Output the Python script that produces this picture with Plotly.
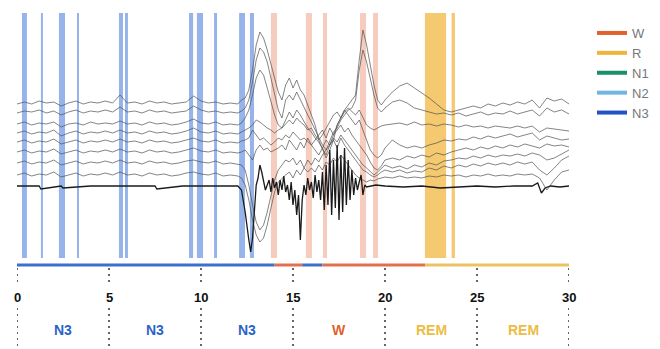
import plotly.graph_objects as go

# ---------------- data ----------------
x_grid = [0, 0.4, 0.8, 1.2, 1.6, 2.0, 2.4, 2.8, 3.2, 3.6, 4.0, 4.4, 4.8, 5.2, 5.6, 6.0,
          6.4, 6.8, 7.2, 7.6, 8.0, 8.4, 8.8, 9.2, 9.6, 10.0, 10.4, 10.8, 11.2, 11.6, 12.0,
          12.2, 12.4, 12.6, 12.8, 13.0, 13.2, 13.4, 13.6, 13.8, 14.0, 14.2, 14.4, 14.6, 14.8,
          15.0, 15.2, 15.4, 15.6, 15.8, 16.0, 16.2, 16.4, 16.6, 16.8, 17.0, 17.2, 17.4, 17.6,
          17.8, 18.0, 18.2, 18.4, 18.6, 18.8, 19.0, 19.2, 19.4, 19.6, 19.8, 20.0,
          20.4, 20.8, 21.2, 21.6, 22.0, 22.4, 22.8, 23.2, 23.6, 24.0, 24.4, 24.8, 25.2, 25.6,
          26.0, 26.4, 26.8, 27.2, 27.6, 28.0, 28.4, 28.8, 29.2, 29.6, 30.0]

# channel traces (vertical position, top = smaller value)
ch1 = [104, 102, 104, 101, 103, 102, 106, 103, 101, 104, 102, 103, 101, 103, 95, 103, 102, 104, 101, 103, 102, 104, 103, 102, 96, 101, 103, 102, 104, 103, 104,
       100, 98, 90, 70, 45, 32, 38, 50, 65, 80, 92, 100, 85, 78, 88, 80, 90, 95, 105, 115, 125, 140, 150, 158, 150, 140, 125, 118, 110, 105, 100, 95, 60, 30, 45, 65, 85, 100, 105, 100,
       92, 86, 83, 88, 93, 98, 104, 110, 112, 110, 108, 106, 108, 104, 106, 103, 105, 102, 104, 100, 108, 98, 101, 99, 104]
ch2 = [113, 111, 112, 110, 113, 111, 115, 112, 110, 113, 111, 112, 110, 112, 107, 112, 111, 113, 110, 112, 111, 113, 112, 111, 106, 110, 112, 111, 113, 112, 113,
       111, 108, 100, 82, 60, 48, 52, 62, 78, 95, 110, 118, 100, 95, 100, 92, 100, 108, 115, 122, 130, 138, 145, 150, 140, 132, 128, 120, 115, 110, 108, 100, 70, 50, 62, 80, 95, 108, 112, 108,
       102, 100, 103, 108, 110, 112, 114, 113, 115, 113, 116, 114, 112, 115, 113, 114, 111, 114, 112, 110, 116, 108, 112, 110, 114]
ch3 = [124, 122, 125, 123, 124, 122, 127, 124, 123, 125, 122, 124, 123, 124, 121, 124, 123, 125, 122, 124, 123, 125, 124, 122, 119, 123, 124, 122, 125, 124, 125,
       123, 118, 110, 95, 78, 70, 75, 88, 102, 115, 125, 128, 120, 112, 118, 110, 115, 122, 128, 132, 138, 142, 148, 155, 145, 135, 125, 118, 112, 108, 112, 115, 110, 118, 125, 128, 130, 128, 126, 125,
       124, 123, 125, 122, 125, 124, 126, 124, 125, 127, 125, 127, 126, 128, 126, 127, 128, 126, 128, 126, 132, 128, 129, 130, 131]
ch4 = [133, 131, 134, 132, 133, 130, 136, 133, 131, 134, 132, 133, 131, 133, 130, 133, 132, 134, 131, 133, 132, 134, 133, 131, 128, 132, 133, 131, 134, 133, 134,
       132, 130, 128, 125, 120, 122, 125, 128, 130, 133, 130, 128, 124, 120, 124, 118, 122, 125, 130, 128, 135, 140, 135, 128, 122, 115, 112, 118, 110, 115, 120, 125, 120, 130, 140, 150, 155, 158, 155, 148,
       140, 145, 148, 146, 148, 145, 143, 140, 141, 139, 140, 137, 139, 136, 138, 136, 134, 137, 135, 133, 140, 136, 138, 140, 139]
ch5 = [142, 140, 143, 141, 142, 139, 144, 142, 140, 143, 141, 142, 140, 142, 139, 142, 141, 143, 140, 142, 141, 143, 142, 140, 138, 141, 142, 140, 143, 142, 143,
       141, 140, 138, 130, 135, 140, 138, 142, 145, 142, 138, 140, 135, 138, 132, 136, 140, 138, 142, 145, 140, 135, 130, 138, 128, 135, 130, 125, 132, 128, 135, 140, 145, 150, 155, 162, 168, 170, 166, 160,
       158, 160, 156, 158, 155, 157, 153, 155, 152, 150, 148, 150, 147, 149, 146, 148, 145, 147, 144, 146, 148, 144, 146, 145, 147]
ch6 = [152, 150, 153, 151, 152, 149, 154, 152, 150, 153, 151, 152, 150, 152, 149, 152, 151, 153, 150, 152, 151, 153, 152, 150, 148, 151, 152, 150, 153, 152, 153,
       152, 150, 155, 160, 150, 145, 150, 148, 152, 150, 148, 145, 150, 140, 145, 150, 142, 148, 138, 145, 150, 155, 148, 140, 145, 138, 142, 135, 140, 145, 150, 155, 160, 165, 168, 172, 175, 172, 168, 165,
       168, 166, 169, 165, 167, 163, 165, 161, 160, 158, 159, 156, 158, 155, 157, 155, 156, 154, 156, 153, 155, 160, 158, 154, 150]
ch7 = [163, 161, 164, 162, 163, 160, 165, 163, 161, 164, 162, 163, 161, 163, 160, 163, 162, 164, 161, 163, 162, 164, 163, 161, 160, 162, 163, 161, 164, 163, 164,
       165, 170, 185, 205, 222, 230, 225, 212, 195, 180, 170, 165, 160, 162, 158, 165, 160, 168, 160, 165, 158, 162, 155, 150, 145, 140, 148, 138, 145, 150, 155, 160, 165, 170, 172, 175, 177, 175, 172, 170,
       172, 170, 173, 171, 172, 168, 170, 166, 168, 165, 167, 164, 166, 163, 165, 163, 165, 162, 164, 162, 170, 175, 168, 160, 156]
ch8 = [175, 173, 176, 174, 175, 172, 177, 175, 173, 176, 174, 175, 173, 175, 172, 175, 174, 176, 173, 175, 174, 176, 175, 173, 172, 174, 175, 173, 176, 175, 176,
       178, 185, 200, 220, 235, 242, 238, 225, 208, 192, 182, 178, 175, 172, 178, 170, 175, 168, 172, 168, 172, 165, 170, 162, 165, 158, 162, 155, 160, 165, 170, 175, 178, 180, 182, 180, 181, 179, 178, 177,
       178, 176, 178, 177, 178, 176, 177, 175, 176, 175, 177, 175, 176, 174, 176, 175, 176, 174, 175, 174, 178, 190, 180, 172, 170]

# reference (black) channel
black_x = [0, 1.2, 1.3, 2.4, 2.5, 4.0, 6.0, 7.5, 7.6, 9.0, 10.0, 11.5,
           12.0, 12.2, 12.4, 12.6, 12.7, 12.8, 12.9, 13.0, 13.1, 13.2, 13.3, 13.4, 13.5,
           13.6, 13.7, 13.8, 13.9, 14.0, 14.1, 14.2, 14.3, 14.4, 14.5, 14.6, 14.7, 14.8, 14.9,
           15.0, 15.1, 15.2, 15.3, 15.4, 15.5, 15.6, 15.7, 15.8, 15.9, 16.0, 16.1, 16.2, 16.3,
           16.4, 16.5, 16.6, 16.7, 16.8, 16.9, 17.0, 17.1, 17.2, 17.3, 17.4, 17.5, 17.6, 17.7,
           17.8, 17.9, 18.0, 18.1, 18.2, 18.3, 18.4, 18.5, 18.6, 18.7, 18.8, 18.9, 19.0,
           19.5, 20, 21, 22, 23, 24, 25, 26, 27, 28, 28.3, 28.5, 28.7, 29, 29.5, 30]
black_y = [186, 186, 189, 186, 188, 186, 186, 186, 189, 186, 186, 186,
           186, 190, 212, 240, 252, 238, 205, 185, 178, 165, 172, 182, 190,
           185, 180, 192, 178, 188, 182, 195, 180, 190, 176, 192, 185, 200, 182,
           205, 190, 215, 195, 240, 200, 185, 195, 178, 190, 182, 198, 175, 192,
           180, 200, 172, 210, 165, 205, 150, 215, 160, 208, 145, 220, 155, 212,
           148, 205, 160, 200, 170, 195, 178, 190, 182, 175, 195, 185, 187,
           185, 186, 187, 186, 188, 187, 186, 187, 186, 186, 183, 193, 188, 186, 187, 186]

# scored epochs (bands)
n3_start = [0.27, 1.30, 2.28, 3.26, 5.54, 5.87, 9.35, 9.78, 10.71, 12.07, 12.66]
n3_end = [0.54, 1.41, 2.61, 3.37, 5.76, 6.03, 9.57, 10.11, 10.87, 12.39, 12.88]
w_start = [13.80, 15.70, 16.63, 18.64, 19.35]
w_end = [14.13, 16.03, 16.85, 18.97, 19.62]
r_start = [22.17, 23.62]
r_end = [23.32, 23.80]

# hypnogram
hyp_start = [0, 14.0, 15.5, 16.6, 22.2]
hyp_end = [14.0, 15.5, 16.6, 22.2, 30]
hyp_stage = ["N3", "W", "N3", "W", "R"]

tick_vals = [0, 5, 10, 15, 20, 25, 30]
tick_text = ["0", "5", "10", "15", "20", "25", "30"]
seg_centers = [2.5, 7.5, 12.5, 17.5, 22.5, 27.5]
seg_labels = ["N3", "N3", "N3", "W", "REM", "REM"]
seg_stage = ["N3", "N3", "N3", "W", "R", "R"]

legend_names = ["W", "R", "N1", "N2", "N3"]
stage_color = {"W": "#e0622d", "R": "#f0b43c", "N1": "#1a8f68", "N2": "#72b4e2", "N3": "#2352c4"}
band_fill = {"W": "rgba(226,110,70,0.35)", "R": "rgba(240,178,50,0.70)", "N3": "rgba(45,105,215,0.50)"}
hyp_color = {"W": "#e2704e", "R": "#ebc263", "N3": "#3d6fcf"}
label_color = {"N3": "#2a63c8", "W": "#e0612f", "R": "#ecbd45"}

# ---------------- figure ----------------
W, H = 660, 349
OFF = 8  # page body margin offset
fig = go.Figure()

channels = [ch1, ch2, ch3, ch4, ch5, ch6, ch7, ch8]
for ch in channels:
    assert len(ch) == len(x_grid)
    fig.add_trace(go.Scatter(x=x_grid, y=ch, mode="lines", showlegend=False, hoverinfo="skip",
                             line=dict(color="rgba(80,80,80,0.7)", width=1)))
fig.add_trace(go.Scatter(x=black_x, y=black_y, mode="lines", showlegend=False, hoverinfo="skip",
                         line=dict(color="#1a1a1a", width=1.3)))

# bands
for starts, ends, st in [(n3_start, n3_end, "N3"), (w_start, w_end, "W"), (r_start, r_end, "R")]:
    for a, b in zip(starts, ends):
        fig.add_shape(type="rect", xref="x", yref="y domain", x0=a, x1=b, y0=0, y1=1,
                      fillcolor=band_fill[st], line_width=0, layer="below")

# hypnogram bar (on lower axis y2)
for a, b, st in zip(hyp_start, hyp_end, hyp_stage):
    fig.add_trace(go.Scatter(x=[a, b], y=[265, 265], xaxis="x", yaxis="y2", mode="lines",
                             showlegend=False, hoverinfo="skip",
                             line=dict(color=hyp_color[st], width=3)))

# dotted tick lines
for tv in tick_vals:
    for y0, y1 in [(268, 286), (308, 352)]:
        fig.add_trace(go.Scatter(x=[tv, tv], y=[y0, y1], xaxis="x", yaxis="y2", mode="lines",
                                 showlegend=False, hoverinfo="skip",
                                 line=dict(color="#666666", width=2, dash="2px,4px")))

# tick labels
for tv, tt in zip(tick_vals, tick_text):
    fig.add_annotation(x=tv, y=297, xref="x", yref="y2", text=f"<b>{tt}</b>", showarrow=False,
                       font=dict(family="Liberation Sans, Arial", size=13, color="#111111"))
# stage labels
for c, lab, st in zip(seg_centers, seg_labels, seg_stage):
    fig.add_annotation(x=c, y=330, xref="x", yref="y2", text=f"<b>{lab}</b>", showarrow=False,
                       font=dict(family="Liberation Sans, Arial", size=14, color=label_color[st]))

# legend entries
for nm in legend_names:
    fig.add_trace(go.Scatter(x=[None], y=[None], mode="lines", name=nm,
                             line=dict(color=stage_color[nm], width=4)))

# layout in reference-pixel terms, shifted by the page margin
top_px = 13 - OFF
mid_px = 258 - OFF
y_dom_bottom = (H - mid_px) / H
y_dom_top = (H - top_px) / H
fig.update_layout(
    width=W, height=H,
    margin=dict(l=17 - OFF, r=W - (569 - OFF), t=0, b=0),
    paper_bgcolor="white", plot_bgcolor="white",
    xaxis=dict(range=[0, 30], visible=False, showgrid=False, zeroline=False),
    yaxis=dict(range=[258, 13], domain=[y_dom_bottom, y_dom_top], visible=False,
               showgrid=False, zeroline=False),
    yaxis2=dict(range=[H + OFF, 258], domain=[0, y_dom_bottom], visible=False,
                showgrid=False, zeroline=False, anchor="x"),
    legend=dict(xref="container", yref="container", x=(592 - OFF) / W, y=1 - (18 - OFF) / H,
                xanchor="left", yanchor="top", bgcolor="rgba(0,0,0,0)",
                font=dict(family="Liberation Sans, Arial", size=13, color="#777777"),
                tracegroupgap=0),
    showlegend=True,
)

fig.write_html("out.html")
